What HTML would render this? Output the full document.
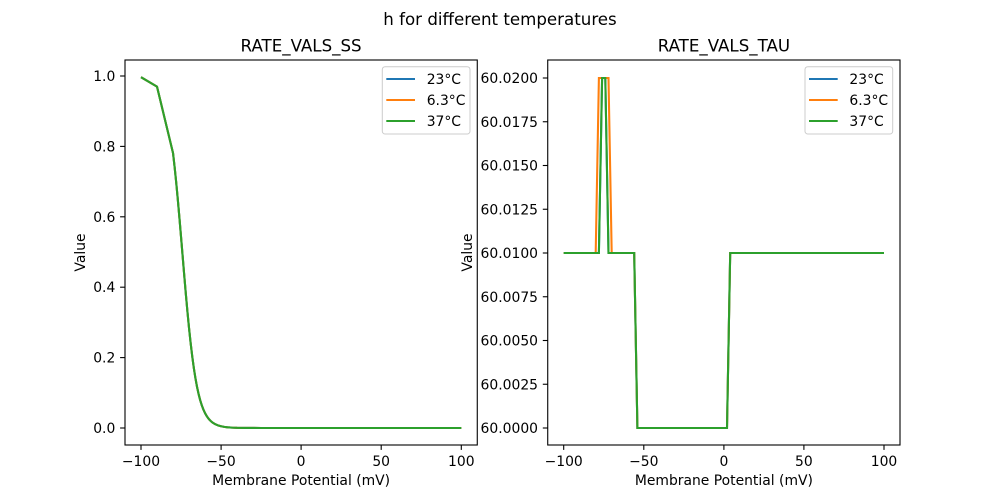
<!DOCTYPE html>
<html>
<head>
<meta charset="utf-8">
<style>
  html,body{margin:0;padding:0;background:#fff;}
  svg{display:block;}
  text{font-family:"DejaVu Sans","Liberation Sans",sans-serif;fill:#000;}
</style>
</head>
<body>
<svg width="1000" height="500" viewBox="0 0 1000 500" xmlns="http://www.w3.org/2000/svg">
  <rect width="1000" height="500" fill="#fff"/>

  <!-- Suptitle -->
  <text x="500" y="25" font-size="16.67" text-anchor="middle">h for different temperatures</text>

  <!-- ============ LEFT AXES ============ -->
  <text x="301.1" y="51.7" font-size="16.67" text-anchor="middle">RATE_VALS_SS</text>

  <!-- curves -->
  <g fill="none" stroke-width="2.08" stroke-linejoin="round" stroke-linecap="butt">
    <polyline stroke="#1f77b4" points="141,77.2 157,86.6 173.04,153.16 174.64,167.21 176.24,182.82 177.84,199.85 179.44,218.01 181.04,236.96 182.65,256.25 184.25,275.45 185.85,294.11 187.45,311.8 189.05,328.23 190.65,343.17 192.26,356.51 193.86,368.22 195.46,378.35 197.06,387.01 198.66,394.32 200.26,400.45 201.87,405.53 203.47,409.74 205.07,413.19 206.67,416.01 208.27,418.31 209.87,420.18 211.48,421.7 213.08,422.92 214.68,423.91 217.88,425.36 221.08,426.29 224.29,426.9 227.49,427.29 232.29,427.63 237.1,427.81 245.1,427.93 261.1,427.99 461.3,428"/>
    <polyline stroke="#ff7f0e" points="141,77.2 157,86.6 173.04,153.16 174.64,167.21 176.24,182.82 177.84,199.85 179.44,218.01 181.04,236.96 182.65,256.25 184.25,275.45 185.85,294.11 187.45,311.8 189.05,328.23 190.65,343.17 192.26,356.51 193.86,368.22 195.46,378.35 197.06,387.01 198.66,394.32 200.26,400.45 201.87,405.53 203.47,409.74 205.07,413.19 206.67,416.01 208.27,418.31 209.87,420.18 211.48,421.7 213.08,422.92 214.68,423.91 217.88,425.36 221.08,426.29 224.29,426.9 227.49,427.29 232.29,427.63 237.1,427.81 245.1,427.93 261.1,427.99 461.3,428"/>
    <polyline stroke="#2ca02c" points="141,77.2 157,86.6 173.04,153.16 174.64,167.21 176.24,182.82 177.84,199.85 179.44,218.01 181.04,236.96 182.65,256.25 184.25,275.45 185.85,294.11 187.45,311.8 189.05,328.23 190.65,343.17 192.26,356.51 193.86,368.22 195.46,378.35 197.06,387.01 198.66,394.32 200.26,400.45 201.87,405.53 203.47,409.74 205.07,413.19 206.67,416.01 208.27,418.31 209.87,420.18 211.48,421.7 213.08,422.92 214.68,423.91 217.88,425.36 221.08,426.29 224.29,426.9 227.49,427.29 232.29,427.63 237.1,427.81 245.1,427.93 261.1,427.99 461.3,428"/>
  </g>

  <!-- spines -->
  <rect x="125" y="60" width="352.27" height="385" fill="none" stroke="#000" stroke-width="1.1"/>

  <!-- x ticks -->
  <g stroke="#000" stroke-width="1.1">
    <line x1="141" y1="445" x2="141" y2="449.9"/>
    <line x1="221.1" y1="445" x2="221.1" y2="449.9"/>
    <line x1="301.1" y1="445" x2="301.1" y2="449.9"/>
    <line x1="381.2" y1="445" x2="381.2" y2="449.9"/>
    <line x1="461.3" y1="445" x2="461.3" y2="449.9"/>
  </g>
  <g font-size="13.9" text-anchor="middle">
    <text x="141" y="466">−100</text>
    <text x="221.1" y="466">−50</text>
    <text x="301.1" y="466">0</text>
    <text x="381.2" y="466">50</text>
    <text x="461.3" y="466">100</text>
  </g>
  <text x="301.1" y="485" font-size="13.9" text-anchor="middle">Membrane Potential (mV)</text>

  <!-- y ticks -->
  <g stroke="#000" stroke-width="1.1">
    <line x1="125" y1="428" x2="120.1" y2="428"/>
    <line x1="125" y1="357.6" x2="120.1" y2="357.6"/>
    <line x1="125" y1="287.2" x2="120.1" y2="287.2"/>
    <line x1="125" y1="216.8" x2="120.1" y2="216.8"/>
    <line x1="125" y1="146.4" x2="120.1" y2="146.4"/>
    <line x1="125" y1="76" x2="120.1" y2="76"/>
  </g>
  <g font-size="13.9" text-anchor="end">
    <text x="115.3" y="433">0.0</text>
    <text x="115.3" y="362.6">0.2</text>
    <text x="115.3" y="292.2">0.4</text>
    <text x="115.3" y="221.8">0.6</text>
    <text x="115.3" y="151.4">0.8</text>
    <text x="115.3" y="81">1.0</text>
  </g>
  <text transform="translate(85,252.5) rotate(-90)" font-size="13.9" text-anchor="middle">Value</text>

  <!-- legend left -->
  <rect x="382.3" y="66.7" width="87.7" height="67.3" rx="2.8" ry="2.8" fill="#fff" fill-opacity="0.8" stroke="#cccccc" stroke-width="1"/>
  <g stroke-width="2.08">
    <line x1="386.3" y1="79" x2="415" y2="79" stroke="#1f77b4"/>
    <line x1="386.3" y1="100" x2="415" y2="100" stroke="#ff7f0e"/>
    <line x1="386.3" y1="121" x2="415" y2="121" stroke="#2ca02c"/>
  </g>
  <g font-size="13.9">
    <text x="426.7" y="84">23°C</text>
    <text x="426.7" y="105">6.3°C</text>
    <text x="426.7" y="126">37°C</text>
  </g>

  <!-- ============ RIGHT AXES ============ -->
  <text x="723.9" y="51.7" font-size="16.67" text-anchor="middle">RATE_VALS_TAU</text>

  <g fill="none" stroke-width="2.08" stroke-linejoin="miter" stroke-miterlimit="10">
    <polyline stroke="#1f77b4" points="563.7,253 598.9,253 602.1,78 605.3,78 608.5,253 634.2,253 637.4,428 727,428 730.2,253 884,253"/>
    <polyline stroke="#ff7f0e" points="563.7,253 595.7,253 598.9,78 608.5,78 611.7,253 634.2,253 637.4,428 727,428 730.2,253 884,253"/>
    <polyline stroke="#2ca02c" points="563.7,253 598.9,253 602.1,78 605.3,78 608.5,253 634.2,253 637.4,428 727,428 730.2,253 884,253"/>
  </g>

  <rect x="547.73" y="60" width="352.27" height="385" fill="none" stroke="#000" stroke-width="1.1"/>

  <g stroke="#000" stroke-width="1.1">
    <line x1="563.7" y1="445" x2="563.7" y2="449.9"/>
    <line x1="643.8" y1="445" x2="643.8" y2="449.9"/>
    <line x1="723.9" y1="445" x2="723.9" y2="449.9"/>
    <line x1="803.9" y1="445" x2="803.9" y2="449.9"/>
    <line x1="884" y1="445" x2="884" y2="449.9"/>
  </g>
  <g font-size="13.9" text-anchor="middle">
    <text x="563.7" y="466">−100</text>
    <text x="643.8" y="466">−50</text>
    <text x="723.9" y="466">0</text>
    <text x="803.9" y="466">50</text>
    <text x="884" y="466">100</text>
  </g>
  <text x="723.9" y="485" font-size="13.9" text-anchor="middle">Membrane Potential (mV)</text>

  <g stroke="#000" stroke-width="1.1">
    <line x1="547.73" y1="428" x2="542.8" y2="428"/>
    <line x1="547.73" y1="384.25" x2="542.8" y2="384.25"/>
    <line x1="547.73" y1="340.5" x2="542.8" y2="340.5"/>
    <line x1="547.73" y1="296.75" x2="542.8" y2="296.75"/>
    <line x1="547.73" y1="253" x2="542.8" y2="253"/>
    <line x1="547.73" y1="209.25" x2="542.8" y2="209.25"/>
    <line x1="547.73" y1="165.5" x2="542.8" y2="165.5"/>
    <line x1="547.73" y1="121.75" x2="542.8" y2="121.75"/>
    <line x1="547.73" y1="78" x2="542.8" y2="78"/>
  </g>
  <g font-size="13.9" text-anchor="end">
    <text x="538" y="433">60.0000</text>
    <text x="538" y="389.25">60.0025</text>
    <text x="538" y="345.5">60.0050</text>
    <text x="538" y="301.75">60.0075</text>
    <text x="538" y="258">60.0100</text>
    <text x="538" y="214.25">60.0125</text>
    <text x="538" y="170.5">60.0150</text>
    <text x="538" y="126.75">60.0175</text>
    <text x="538" y="83">60.0200</text>
  </g>
  <text transform="translate(472,252.5) rotate(-90)" font-size="13.9" text-anchor="middle">Value</text>

  <!-- legend right -->
  <rect x="805" y="66.7" width="87.7" height="67.3" rx="2.8" ry="2.8" fill="#fff" fill-opacity="0.8" stroke="#cccccc" stroke-width="1"/>
  <g stroke-width="2.08">
    <line x1="809" y1="79" x2="837.7" y2="79" stroke="#1f77b4"/>
    <line x1="809" y1="100" x2="837.7" y2="100" stroke="#ff7f0e"/>
    <line x1="809" y1="121" x2="837.7" y2="121" stroke="#2ca02c"/>
  </g>
  <g font-size="13.9">
    <text x="849.4" y="84">23°C</text>
    <text x="849.4" y="105">6.3°C</text>
    <text x="849.4" y="126">37°C</text>
  </g>
</svg>
</body>
</html>
